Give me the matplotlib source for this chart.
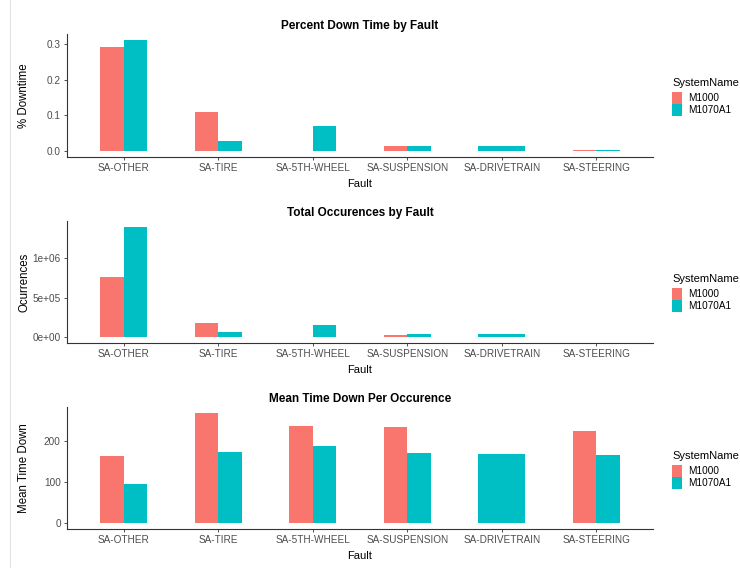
import numpy as np
import matplotlib
matplotlib.use("Agg")
import matplotlib.pyplot as plt
from matplotlib.patches import Patch
from matplotlib.lines import Line2D

plt.rcParams['font.family'] = ['Liberation Sans', 'DejaVu Sans']

faults = ["SA-OTHER", "SA-TIRE", "SA-5TH-WHEEL", "SA-SUSPENSION", "SA-DRIVETRAIN", "SA-STEERING"]
systems = ["M1000", "M1070A1"]
colors = ["#F8766D", "#00BFC4"]

pct_m1000 = [0.290, 0.109, 0.002, 0.016, np.nan, 0.004]
pct_m1070 = [0.311, 0.028, 0.070, 0.016, 0.016, 0.003]

occ_m1000 = [762000, 180000, 9000, 33000, np.nan, 12000]
occ_m1070 = [1396000, 67000, 158000, 46000, 42000, 12000]

mean_m1000 = [162, 268, 235, 234, np.nan, 223]
mean_m1070 = [96, 172, 187, 170, 168, 166]

pct_ticks = [0.0, 0.1, 0.2, 0.3]
pct_labels = ["0.0", "0.1", "0.2", "0.3"]
occ_ticks = [0, 500000, 1000000]
occ_labels = ["0e+00", "5e+05", "1e+06"]
mean_ticks = [0, 100, 200]
mean_labels = ["0", "100", "200"]

W, H = 740, 568
fig = plt.figure(figsize=(W / 100, H / 100), dpi=100)
fig.patch.set_facecolor("white")

PLOT_LEFT, PLOT_RIGHT = 67, 653


def px_axes(left, top, right, bottom):
    return fig.add_axes([left / W, 1 - bottom / H, (right - left) / W, (bottom - top) / H])


tick_color = "#4D4D4D"
dodge_width = 0.5


def panel(top, bottom, title, ylabel, s1, s2, ticks, labels, legend_y):
    ax = px_axes(PLOT_LEFT, top, PLOT_RIGHT, bottom)
    series = [np.array(s1, float), np.array(s2, float)]
    for i in range(len(faults)):
        present = [k for k in range(2) if not np.isnan(series[k][i])]
        n = len(present)
        w = dodge_width / n
        for j, k in enumerate(present):
            x = i - dodge_width / 2 + w * (j + 0.5)
            ax.bar(x, series[k][i], width=w, color=colors[k], linewidth=0)
    ymax = np.nanmax(np.concatenate(series))
    ax.set_ylim(-0.05 * ymax, ymax * 1.05)
    ax.set_xlim(-0.6, len(faults) - 0.4)
    ax.set_xticks(range(len(faults)))
    ax.set_xticklabels(faults)
    ax.set_yticks(ticks)
    ax.set_yticklabels(labels)
    for s in ["top", "right"]:
        ax.spines[s].set_visible(False)
    for s in ["left", "bottom"]:
        ax.spines[s].set_color("#333333")
        ax.spines[s].set_linewidth(0.8)
    ax.tick_params(axis="both", colors="#333333", labelcolor=tick_color,
                   labelsize=7.2, length=2.5, width=0.6, pad=2)
    ax.set_title(title, fontsize=8.5, fontweight="bold", pad=3.5)
    ax.set_xlabel("Fault", fontsize=8, labelpad=4)
    ax.set_ylabel(ylabel, fontsize=8.3)
    ax.yaxis.set_label_coords((30 - PLOT_LEFT) / (PLOT_RIGHT - PLOT_LEFT), 0.5)
    handles = [Patch(facecolor=colors[k], edgecolor="none", label=systems[k]) for k in range(2)]
    leg = fig.legend(handles=handles, title="SystemName", loc="upper left",
                     bbox_to_anchor=(672 / W, 1 - legend_y / H), frameon=False,
                     fontsize=7.2, title_fontsize=8, handlelength=1.0, handleheight=1.45,
                     handletextpad=0.6, labelspacing=0.0, borderpad=0.0,
                     borderaxespad=0.0, alignment="left")
    leg._legend_box.sep = 3
    return ax


panel(34, 157, "Percent Down Time by Fault", "% Downtime",
      pct_m1000, pct_m1070, pct_ticks, pct_labels, 78)
panel(221, 343, "Total Occurences by Fault", "Ocurrences",
      occ_m1000, occ_m1070, occ_ticks, occ_labels, 274)
panel(407, 529, "Mean Time Down Per Occurence", "Mean Time Down",
      mean_m1000, mean_m1070, mean_ticks, mean_labels, 451)

# thin border on the left edge of the canvas
fig.add_artist(Line2D([10 / W, 10 / W], [0, 1], color="#E3E3E3", linewidth=0.8))

fig.savefig("out.png", dpi=100)
